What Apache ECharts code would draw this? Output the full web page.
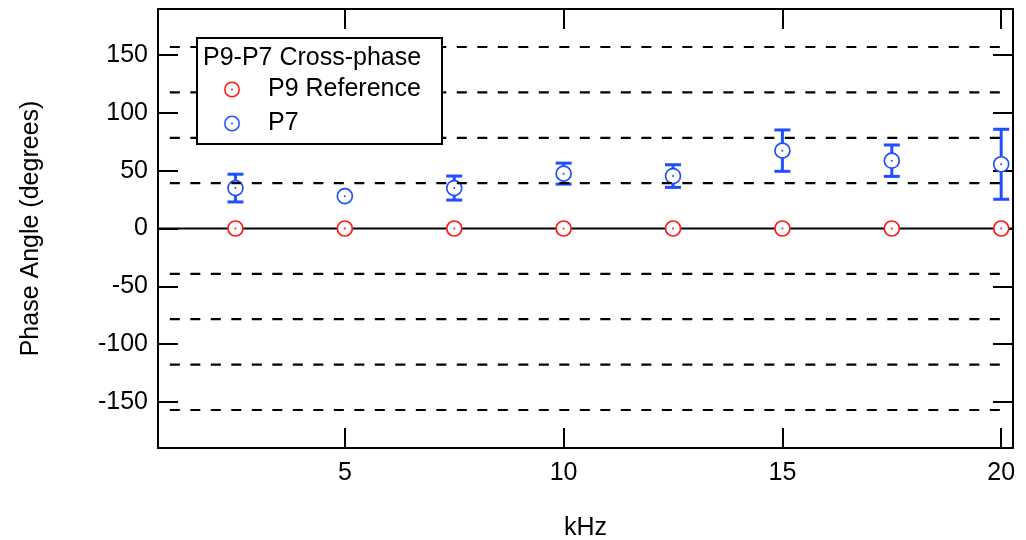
<!DOCTYPE html>
<html>
<head>
<meta charset="utf-8">
<title>P9-P7 Cross-phase</title>
<script src="https://cdn.jsdelivr.net/npm/echarts@6/dist/echarts.min.js"></script>
<style>
  html, body { margin: 0; padding: 0; background: #fff; }
  #chart { width: 1026px; height: 540px; }
</style>
</head>
<body>
<div id="chart"></div>
<script>
// Measurement frequencies (kHz)
const freqKHz = [2.5, 5, 7.5, 10, 12.5, 15, 17.5, 20];
// Reference probe P9: phase is zero by definition
const p9Phase = [0, 0, 0, 0, 0, 0, 0, 0];
// Probe P7 phase relative to P9 (degrees) and its uncertainty
const p7Phase = [35.0, 28.0, 35.0, 47.5, 45.4, 67.4, 58.7, 55.6];
const p7Err   = [12.0, 0, 10.4, 9.1, 9.8, 17.9, 13.6, 30.3];
// Horizontal dashed guide levels (degrees) and their x-span (kHz)
const guideLevels = [157.1, 117.8, 78.5, 39.3, -39.3, -78.5, -117.8, -157.1];
const guideSpan = [1, 20];
// Axis ranges and tick labels
const xRange = [0.73, 20.27];
const yRange = [-190, 190];
const xTicks = [5, 10, 15, 20];
const yTicks = [-150, -100, -50, 0, 50, 100, 150];

const FONT = 'Liberation Sans, Arial, Helvetica, sans-serif';
const textBase = { fontFamily: FONT, fontSize: 25, color: '#000' };
const RED = '#ff1a1a';
const BLUE = '#1f4fff';

// ring with a centre dot, used as the legend icon
const ringIcon = 'path://M0,-8A8,8,0,1,1,0,8A8,8,0,1,1,0,-8Z' +
  'M0,-6.5A6.5,6.5,0,1,0,0,6.5A6.5,6.5,0,1,0,0,-6.5Z' +
  'M0,-1A1,1,0,1,1,0,1A1,1,0,1,1,0,-1Z';

// open circle with centre dot, plus optional capped error bar
function renderMarker(params, api) {
  const x = api.value(0), y = api.value(1), e = api.value(2);
  const c = api.coord([x, y]);
  const color = api.visual('color');
  const kids = [];
  if (e > 0) {
    const t = api.coord([x, y + e]);
    const b = api.coord([x, y - e]);
    const bar = { stroke: color, lineWidth: 3 };
    kids.push({ type: 'line', shape: { x1: c[0], y1: t[1], x2: c[0], y2: b[1] }, style: bar });
    kids.push({ type: 'line', shape: { x1: c[0] - 8, y1: t[1], x2: c[0] + 8, y2: t[1] }, style: bar });
    kids.push({ type: 'line', shape: { x1: c[0] - 8, y1: b[1], x2: c[0] + 8, y2: b[1] }, style: bar });
  }
  kids.push({ type: 'circle', shape: { cx: c[0], cy: c[1], r: 7.5 },
              style: { fill: '#fff', stroke: color, lineWidth: 1.7 } });
  kids.push({ type: 'circle', shape: { cx: c[0], cy: c[1], r: 1 }, style: { fill: color } });
  return { type: 'group', children: kids };
}

function frameAxis(extra) {
  return Object.assign({
    type: 'value',
    axisLine: { show: true, onZero: false, lineStyle: { color: '#000', width: 2 } },
    splitLine: { show: false },
  }, extra);
}

const tickStyle = { color: '#000', width: 2 };

const guideSeries = guideLevels.map(v => ({
  type: 'line',
  z: 5,
  silent: true,
  symbol: 'none',
  data: [[guideSpan[0], v], [guideSpan[1], v]],
  lineStyle: { color: '#000', width: 2.2, type: [10, 10.5] },
}));

const chart = echarts.init(document.getElementById('chart'), null, { renderer: 'canvas' });
chart.setOption({
  animation: false,
  backgroundColor: '#fff',
  grid: { left: 158, right: 13, top: 9, bottom: 92, containLabel: false, outerBoundsMode: 'none' },
  xAxis: [
    frameAxis({
      position: 'bottom', min: xRange[0], max: xRange[1],
      axisTick: { show: true, inside: true, length: 20, customValues: xTicks, lineStyle: tickStyle },
      axisLabel: Object.assign({ customValues: xTicks, margin: 13 }, textBase),
      name: 'kHz', nameLocation: 'middle', nameGap: 68,
      nameTextStyle: Object.assign({}, textBase),
    }),
    frameAxis({
      position: 'top', min: xRange[0], max: xRange[1],
      axisTick: { show: true, inside: true, length: 20, customValues: xTicks, lineStyle: tickStyle },
      axisLabel: { show: false },
    }),
  ],
  yAxis: [
    frameAxis({
      position: 'left', min: yRange[0], max: yRange[1],
      axisTick: { show: true, inside: true, length: 20, customValues: yTicks, lineStyle: tickStyle },
      axisLabel: Object.assign({ customValues: yTicks, margin: 10 }, textBase),
      name: 'Phase Angle (degrees)', nameLocation: 'middle', nameGap: 114,
      nameTextStyle: Object.assign({}, textBase),
    }),
    frameAxis({
      position: 'right', min: yRange[0], max: yRange[1],
      axisTick: { show: true, inside: true, length: 20, customValues: yTicks, lineStyle: tickStyle },
      axisLabel: { show: false },
    }),
  ],
  legend: {
    z: 8,
    left: 224, top: 77,
    orient: 'vertical',
    padding: 0,
    itemWidth: 62, itemHeight: 16, itemGap: 9,
    selectedMode: false,
    textStyle: Object.assign({ lineHeight: 24 }, textBase),
    data: [
      { name: 'P9 Reference', icon: ringIcon },
      { name: 'P7', icon: ringIcon },
    ],
  },
  graphic: [
    { type: 'rect', z: 7, shape: { x: 197, y: 38, width: 245, height: 106 },
      style: { fill: '#fff', stroke: '#000', lineWidth: 2 } },
    { type: 'text', z: 8, x: 203, y: 58,
      style: { text: 'P9-P7 Cross-phase', font: '25px ' + FONT, fill: '#000',
               textVerticalAlign: 'middle', verticalAlign: 'middle' } },
  ],
  series: [
    {
      // solid zero-phase line across the full plot width
      type: 'line', z: 2, silent: true, symbol: 'none',
      data: [[xRange[0], 0], [xRange[1], 0]],
      lineStyle: { color: '#000', width: 2 },
    },
    {
      name: 'P9 Reference', type: 'custom', z: 4,
      itemStyle: { color: RED },
      encode: { x: 0, y: 1 },
      data: freqKHz.map((f, i) => [f, p9Phase[i], 0]),
      renderItem: renderMarker,
    },
    {
      name: 'P7', type: 'custom', z: 4,
      itemStyle: { color: BLUE },
      encode: { x: 0, y: 1 },
      data: freqKHz.map((f, i) => [f, p7Phase[i], p7Err[i]]),
      renderItem: renderMarker,
    },
  ].concat(guideSeries),
});
</script>
</body>
</html>
